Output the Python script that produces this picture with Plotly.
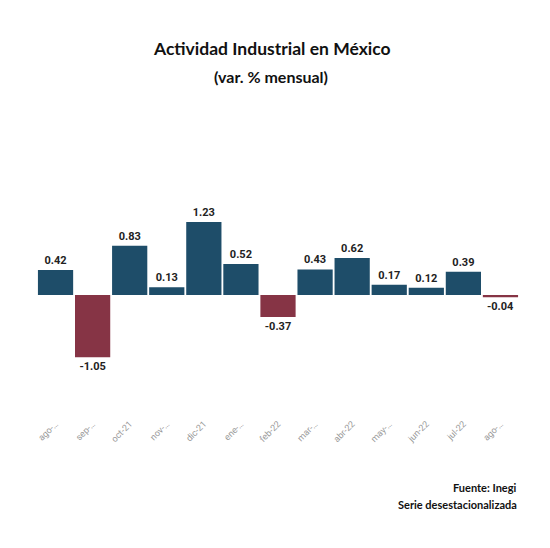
import plotly.graph_objects as go

categories = ["ago-21", "sep-21", "oct-21", "nov-21", "dic-21", "ene-22", "feb-22",
              "mar-22", "abr-22", "may-22", "jun-22", "jul-22", "ago-22"]
tick_labels = ["ago-…", "sep-…", "oct-21", "nov-…", "dic-21", "ene-…", "feb-22",
               "mar-…", "abr-22", "may-…", "jun-22", "jul-22", "ago-…"]
values = [0.42, -1.05, 0.83, 0.13, 1.23, 0.52, -0.37, 0.43, 0.62, 0.17, 0.12, 0.39, -0.04]

BLUE = "#1e4d69"
RED = "#863445"
colors = [BLUE if v >= 0 else RED for v in values]

W, H = 550, 548
L, R, T, B = 29, 39, 132, 140

fig = go.Figure(go.Bar(
    x=categories, y=values,
    marker=dict(color=colors, line=dict(width=0)),
    text=[f"{v:.2f}" for v in values],
    textposition="outside",
    textfont=dict(family="Roboto", size=11, color="#222222", weight="bold"),
    cliponaxis=False,
))

fig.update_layout(
    width=W, height=H,
    paper_bgcolor="white", plot_bgcolor="white",
    margin=dict(l=L, r=R, t=T, b=B),
    bargap=0.05,
    showlegend=False,
    font=dict(family="Roboto"),
    xaxis=dict(tickmode="array", tickvals=categories, ticktext=tick_labels,
               tickangle=-45, tickfont=dict(size=9, color="#999999"),
               showgrid=False, showline=False, zeroline=False, ticks=""),
    yaxis=dict(range=[-2.04, 2.61], visible=False, showgrid=False, zeroline=False),
)

H_plot = H - T - B
W_plot = W - L - R

def py(px):
    return (H - B - px) / H_plot

def px_(x):
    return (x - L) / W_plot

fig.add_annotation(text="Actividad Industrial en México", x=px_(263.5), y=py(40), xref="paper", yref="paper",
                   xanchor="center", yanchor="middle", showarrow=False,
                   font=dict(size=17.5, color="#111111", family="Lato", weight="bold"))
fig.add_annotation(text="(var. % mensual)", x=px_(262.5), y=py(68), xref="paper", yref="paper",
                   xanchor="center", yanchor="middle", showarrow=False,
                   font=dict(size=16, color="#111111", family="Lato", weight="bold"))
fig.add_annotation(text="Fuente: Inegi", x=px_(511), y=py(479), xref="paper", yref="paper",
                   xanchor="right", yanchor="middle", showarrow=False,
                   font=dict(size=11, color="#111111", family="Lato", weight="bold"))
fig.add_annotation(text="Serie desestacionalizada", x=px_(511), y=py(497), xref="paper", yref="paper",
                   xanchor="right", yanchor="middle", showarrow=False,
                   font=dict(size=11, color="#111111", family="Lato", weight="bold"))

fig.write_html("out.html")
